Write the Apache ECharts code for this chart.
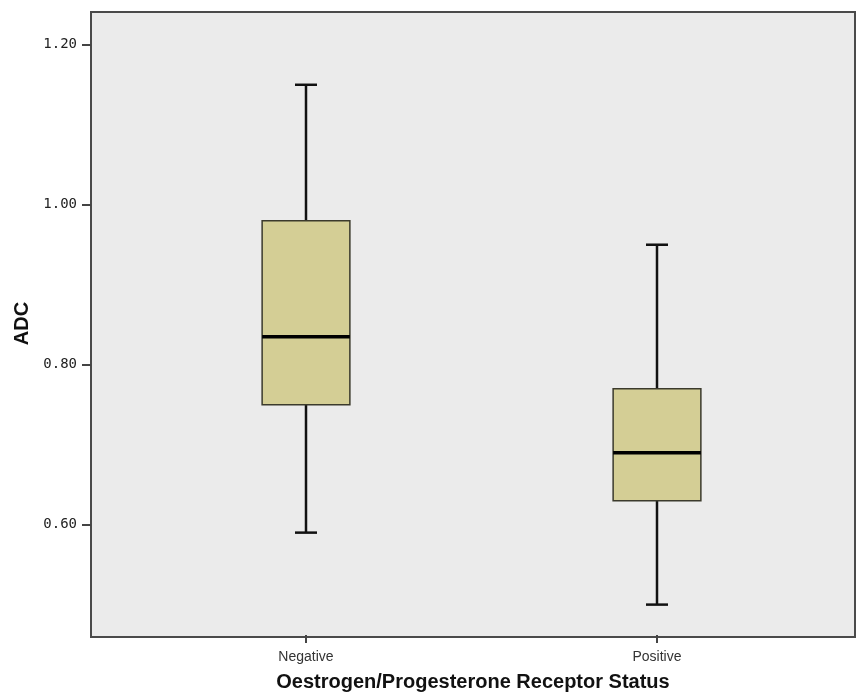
<!DOCTYPE html>
<html>
<head>
<meta charset="utf-8">
<script src="https://cdn.jsdelivr.net/npm/echarts@6/dist/echarts.min.js"></script>
<style>
  html, body { margin: 0; padding: 0; background: #fff; }
  #main { width: 860px; height: 697px; }
</style>
</head>
<body>
<div id="main"></div>
<script>
// box plot data
var categories = ['Negative', 'Positive'];
var minVals = [0.59, 0.50];
var q1Vals = [0.75, 0.63];
var medianVals = [0.835, 0.69];
var q3Vals = [0.98, 0.77];
var maxVals = [1.15, 0.95];
var yTicks = [0.6, 0.8, 1.0, 1.2];

var boxData = categories.map(function (c, i) {
    return [i, minVals[i], q1Vals[i], medianVals[i], q3Vals[i], maxVals[i]];
});

var myChart = echarts.init(document.getElementById('main'));

function renderBox(params, api) {
    var idx = api.value(0);
    var x = api.coord([idx, 0])[0];
    var half = api.size([1, 0])[0] * 0.125;
    var cap = 11;
    var yMin = api.coord([idx, api.value(1)])[1];
    var yQ1 = api.coord([idx, api.value(2)])[1];
    var yMed = api.coord([idx, api.value(3)])[1];
    var yQ3 = api.coord([idx, api.value(4)])[1];
    var yMax = api.coord([idx, api.value(5)])[1];
    var lineStyle = { stroke: '#111', lineWidth: 2.5 };
    return {
        type: 'group',
        children: [
            { type: 'line', shape: { x1: x, y1: yMax, x2: x, y2: yQ3 }, style: lineStyle },
            { type: 'line', shape: { x1: x, y1: yQ1, x2: x, y2: yMin }, style: lineStyle },
            { type: 'line', shape: { x1: x - cap, y1: yMax, x2: x + cap, y2: yMax }, style: lineStyle },
            { type: 'line', shape: { x1: x - cap, y1: yMin, x2: x + cap, y2: yMin }, style: lineStyle },
            {
                type: 'rect',
                shape: { x: x - half, y: yQ3, width: half * 2, height: yQ1 - yQ3 },
                style: { fill: '#d4ce95', stroke: '#3b3a2c', lineWidth: 1.5 }
            },
            {
                type: 'line',
                shape: { x1: x - half, y1: yMed, x2: x + half, y2: yMed },
                style: { stroke: '#000', lineWidth: 3.5 }
            }
        ]
    };
}

var option = {
    backgroundColor: '#fff',
    animation: false,
    graphic: [
        {
            type: 'rect',
            z: -10,
            shape: { x: 91, y: 12, width: 764, height: 625 },
            style: { fill: '#ebebeb', stroke: '#4a4a4a', lineWidth: 2 }
        }
    ],
    grid: {
        left: 130.5,
        width: 702,
        top: 12,
        bottom: 60
    },
    xAxis: {
        type: 'category',
        data: categories,
        name: 'Oestrogen/Progesterone Receptor Status',
        nameLocation: 'middle',
        nameGap: 37,
        nameTextStyle: {
            fontFamily: 'Liberation Sans',
            fontWeight: 'bold',
            fontSize: 20,
            color: '#111',
            padding: [0, 17, 0, 0]
        },
        axisLine: { show: false },
        axisTick: {
            show: true,
            alignWithLabel: true,
            length: 8,
            lineStyle: { color: '#444', width: 2 }
        },
        axisLabel: {
            margin: 15,
            fontFamily: 'Liberation Sans',
            fontSize: 14,
            color: '#333'
        },
        splitLine: { show: false }
    },
    yAxis: {
        type: 'value',
        min: 0.462,
        max: 1.241,
        offset: 39.5,
        name: 'ADC',
        nameLocation: 'middle',
        nameGap: 59,
        nameTextStyle: {
            fontFamily: 'Liberation Sans',
            fontWeight: 'bold',
            fontSize: 20,
            color: '#111'
        },
        axisLine: { show: false },
        axisTick: {
            show: true,
            length: 9,
            customValues: yTicks,
            lineStyle: { color: '#444', width: 2 }
        },
        axisLabel: {
            margin: 14,
            customValues: yTicks,
            fontFamily: 'DejaVu Sans Mono',
            fontSize: 14,
            color: '#222',
            formatter: function (v) { return v.toFixed(2); }
        },
        splitLine: { show: false }
    },
    series: [
        {
            name: 'ADC',
            type: 'custom',
            renderItem: renderBox,
            encode: { x: 0, y: [1, 2, 3, 4, 5] },
            data: boxData
        }
    ]
};

myChart.setOption(option);
</script>
</body>
</html>
